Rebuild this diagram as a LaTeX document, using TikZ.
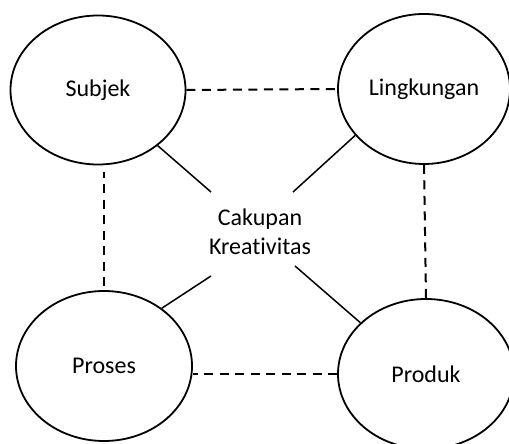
\documentclass[tikz,border=0pt]{standalone}
\usepackage{fontspec}
\setmainfont[Ligatures={NoCommon}]{Carlito}
\usetikzlibrary{shapes.geometric}

\tikzset{
  aspect/.style={ellipse, draw=black, line width=1.8bp, inner sep=0pt,
    minimum width=176bp, minimum height=150bp,
    font=\fontsize{24bp}{29bp}\selectfont, text=black},
  hub/.style={align=center, inner sep=0pt,
    font=\fontsize{24bp}{29bp}\selectfont, text=black},
  spoke/.style={draw=black, line width=1.5bp},
  pair/.style={draw=black, line width=2bp, dash pattern=on 9bp off 6.5bp}
}

\begin{document}
\begin{tikzpicture}[x=1bp, y=-1bp]
  \useasboundingbox (0,0) rectangle (509,444);

  % the four aspects of creativity
  \node[aspect, minimum width=175bp, minimum height=149bp] (subjek) at (98,90) {Subjek};
  \node[aspect, minimum width=172bp] (lingkungan) at (424,89) {Lingkungan};
  \node[aspect] (proses) at (104,366) {Proses};
  \node[aspect] (produk) at (426,374) {Produk};

  % central label
  \node[hub] (cakupan) at (260,232) {Cakupan\\Kreativitas};

  % free ends of the spokes around the central label
  \coordinate (nw) at (211,192);
  \coordinate (ne) at (293,192);
  \coordinate (sw) at (211,276);
  \coordinate (se) at (295,266);

  % spokes from each aspect toward the centre
  \draw[spoke] (subjek.317) -- (nw);
  \draw[spoke] (lingkungan.214) -- (ne);
  \draw[spoke] (proses.45) -- (sw);
  \draw[spoke] (produk.142) -- (se);

  % dashed links between neighbouring aspects
  \draw[pair] (subjek.east) -- (lingkungan.west);
  \draw[pair] (lingkungan.south) -- (produk.north);
  \draw[pair] ([yshift=4bp]proses.north) -- ([yshift=-7bp]proses.north |- subjek.south);
  \draw[pair] (produk.west) -- (produk.west -| proses.east);
\end{tikzpicture}
\end{document}
